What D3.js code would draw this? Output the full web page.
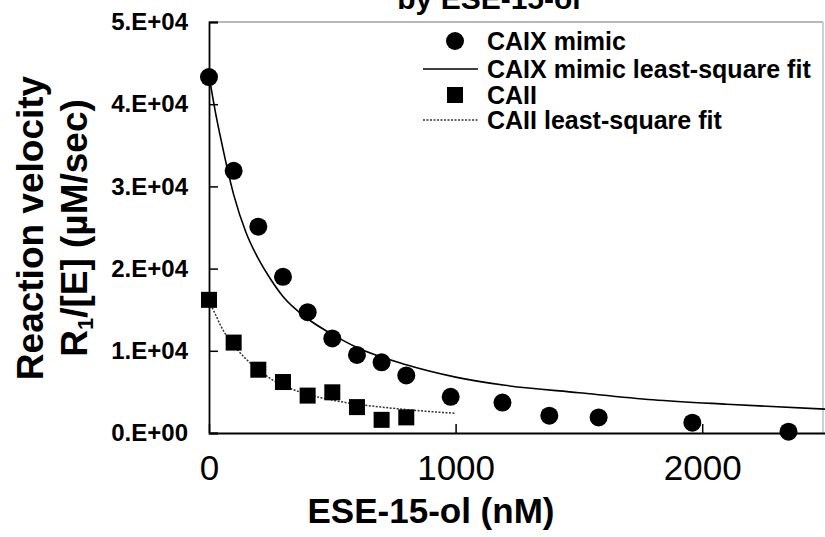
<!DOCTYPE html>
<html>
<head>
<meta charset="utf-8">
<script src="https://cdn.jsdelivr.net/npm/d3@7/dist/d3.min.js"></script>
<style>
  html, body { margin: 0; padding: 0; background: #fff; }
  svg { display: block; font-family: "Liberation Sans", Arial, sans-serif; }
</style>
</head>
<body>
<svg id="chart" width="825" height="537"></svg>
<script>
// ---- data ----
const caixX = [0, 100, 200, 300, 400, 500, 600, 700, 800, 980, 1190, 1380, 1580, 1960, 2350];
const caixY = [43300, 31900, 25100, 19000, 14700, 11500, 9500, 8600, 7000, 4400, 3700, 2100, 1900, 1250, 160];

const caiiX = [0, 100, 200, 300, 400, 500, 600, 700, 800];
const caiiY = [16200, 11000, 7700, 6200, 4550, 4950, 3150, 1600, 1900];

const caixFitX = [0, 25, 50, 100, 150, 200, 250, 300, 400, 500, 600, 800, 1000, 1200, 1500, 1800, 2100, 2500];
const caixFitY = [43500, 39200, 35500, 29000, 24400, 21200, 18700, 16600, 13900, 12000, 10400, 8300, 6800, 5800, 4900, 4050, 3500, 2900];

const caiiFitX = [0, 25, 50, 100, 150, 200, 250, 300, 400, 500, 600, 700, 800, 900, 1000];
const caiiFitY = [16000, 14500, 12900, 10700, 9000, 7700, 6600, 5800, 4700, 4000, 3500, 3150, 2850, 2600, 2400];

const yTicks = [0, 10000, 20000, 30000, 40000, 50000];
const yTickLabels = ["0.E+00", "1.E+04", "2.E+04", "3.E+04", "4.E+04", "5.E+04"];
const xTicks = [0, 1000, 2000];
const xTickLabels = ["0", "1000", "2000"];

const legendLabels = ["CAIX mimic", "CAIX mimic least-square fit", "CAII", "CAII least-square fit"];
const titleText = "by ESE-15-ol";
const xTitle = "ESE-15-ol (nM)";
const yTitle1 = "Reaction velocity";

// ---- drawing ----
const svg = d3.select("#chart");
const mLeft = 209, mRight = 825.5, mTop = 22, mBottom = 433;

const x = d3.scaleLinear().domain([0, 2500]).range([mLeft, mRight]);
const y = d3.scaleLinear().domain([0, 50000]).range([mBottom, mTop]);

// title (cut off at top)
svg.append("text")
  .attr("x", 489).attr("y", 9)
  .attr("text-anchor", "middle")
  .attr("font-size", 30).attr("font-weight", "bold")
  .text(titleText);

// frame (top / right in grey)
svg.append("line").attr("x1", mLeft).attr("x2", 823).attr("y1", y(50000)).attr("y2", y(50000))
  .attr("stroke", "#a0a0a0").attr("stroke-width", 1.5);
svg.append("line").attr("x1", 823).attr("x2", 823).attr("y1", y(50000)).attr("y2", mBottom)
  .attr("stroke", "#c0c0c0").attr("stroke-width", 1.5);

// y axis
const yAxis = d3.axisLeft(y).tickValues(yTicks)
  .tickFormat((d, i) => yTickLabels[i]).tickSize(-9).tickPadding(21);
const gy = svg.append("g").attr("transform", `translate(${mLeft},0)`).call(yAxis);
gy.select(".domain").attr("stroke", "#000").attr("stroke-width", 1.8);
gy.selectAll(".tick line").attr("stroke", "#000").attr("stroke-width", 1.5);
gy.selectAll(".tick text").attr("font-size", 24).attr("font-weight", "bold")
  .attr("fill", "#000").attr("font-family", "Liberation Sans, Arial, sans-serif");

// x axis
const xAxis = d3.axisBottom(x).tickValues(xTicks)
  .tickFormat((d, i) => xTickLabels[i]).tickSize(-9).tickPadding(22).tickSizeOuter(0);
const gx = svg.append("g").attr("transform", `translate(0,${mBottom})`).call(xAxis);
gx.select(".domain").attr("stroke", "#000").attr("stroke-width", 1.8);
gx.selectAll(".tick line").attr("stroke", "#000").attr("stroke-width", 1.5);
gx.selectAll(".tick text").attr("font-size", 35).attr("font-weight", "normal")
  .attr("fill", "#000").attr("font-family", "Liberation Sans, Arial, sans-serif");

// axis titles
svg.append("text")
  .attr("x", 431).attr("y", 523)
  .attr("text-anchor", "middle")
  .attr("font-size", 35).attr("font-weight", "bold")
  .text(xTitle);

const yt = svg.append("text")
  .attr("transform", "translate(43,228) rotate(-90)")
  .attr("text-anchor", "middle")
  .attr("font-size", 37).attr("font-weight", "bold");
yt.append("tspan").attr("x", 0).attr("y", 0).text(yTitle1);
const yt2 = svg.append("text")
  .attr("transform", "translate(87,228) rotate(-90)")
  .attr("text-anchor", "middle")
  .attr("font-size", 37).attr("font-weight", "bold");
yt2.append("tspan").text("R");
yt2.append("tspan").attr("font-size", 22).attr("dy", 6).text("1");
yt2.append("tspan").attr("dy", -6).text("/[E] (µM/sec)");

// fit lines
const line = d3.line().x(d => x(d[0])).y(d => y(d[1])).curve(d3.curveMonotoneX);
svg.append("path")
  .datum(caixFitX.map((v, i) => [v, caixFitY[i]]))
  .attr("d", line).attr("fill", "none").attr("stroke", "#000").attr("stroke-width", 1.6);
svg.append("path")
  .datum(caiiFitX.map((v, i) => [v, caiiFitY[i]]))
  .attr("d", line).attr("fill", "none").attr("stroke", "#333").attr("stroke-width", 1.5)
  .attr("stroke-dasharray", "2,1.5");

// markers
svg.append("g").selectAll("circle")
  .data(caixX.map((v, i) => [v, caixY[i]]))
  .join("circle")
  .attr("cx", d => x(d[0])).attr("cy", d => y(d[1])).attr("r", 9).attr("fill", "#000");

const sq = 16;
svg.append("g").selectAll("rect")
  .data(caiiX.map((v, i) => [v, caiiY[i]]))
  .join("rect")
  .attr("x", d => x(d[0]) - sq / 2).attr("y", d => y(d[1]) - sq / 2)
  .attr("width", sq).attr("height", sq).attr("fill", "#000");

// legend
const lg = svg.append("g").attr("font-size", 25).attr("font-weight", "bold");
const rows = [41, 69, 95, 120];
lg.append("circle").attr("cx", 455).attr("cy", rows[0]).attr("r", 9).attr("fill", "#000");
lg.append("line").attr("x1", 423).attr("x2", 478).attr("y1", rows[1]).attr("y2", rows[1])
  .attr("stroke", "#000").attr("stroke-width", 1.6);
lg.append("rect").attr("x", 455 - 8).attr("y", rows[2] - 8).attr("width", 16).attr("height", 16).attr("fill", "#000");
lg.append("line").attr("x1", 423).attr("x2", 478).attr("y1", rows[3]).attr("y2", rows[3])
  .attr("stroke", "#333").attr("stroke-width", 1.5).attr("stroke-dasharray", "2,1.5");
legendLabels.forEach((t, i) => {
  lg.append("text").attr("x", 487).attr("y", rows[i] + 9).text(t);
});
</script>
</body>
</html>
